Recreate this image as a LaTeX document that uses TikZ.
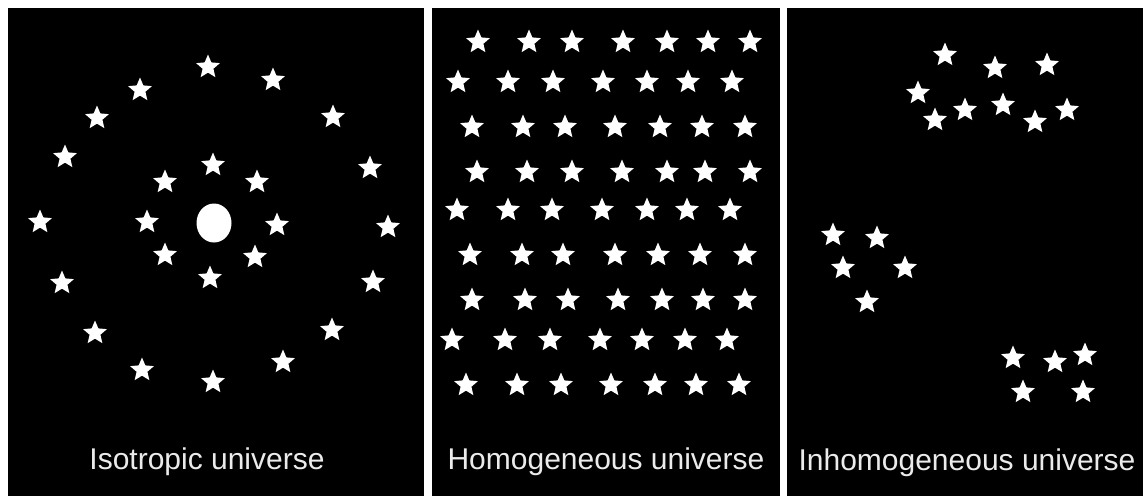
\documentclass[tikz,border=0pt]{standalone}
\usepackage{fontspec}
\setmainfont{Liberation Sans}
\usetikzlibrary{shapes.geometric}
\definecolor{captiongrey}{RGB}{235,235,235}

\tikzset{
  twinkle/.style={star,star points=5,star point ratio=2.2,fill=white,
    inner sep=0pt,minimum size=25pt},
  caption/.style={text=captiongrey,anchor=base,
    font=\fontsize{30}{36}\selectfont},
}

\begin{document}
\begin{tikzpicture}[x=1pt,y=-1pt]
        \fill[white] (0,0) rectangle (1143,496);
        \useasboundingbox (0,0) rectangle (1143,496);
        % the three black panels
        \fill[black] (8,8) rectangle (424,496);
        \fill[black] (432,8) rectangle (780,496);
        \fill[black] (787,8) rectangle (1143,496);
        % isotropic: sun with two rings of stars
        \node (sun) [ellipse,fill=white,inner sep=0pt,minimum width=35pt,
          minimum height=39pt] at (214,223) {};
        \foreach \x/\y [count=\i] in {208/67,273/80,140/90,97/118,333/117,
            65/157,370/168,40/222,388/227,62/283,373/282,95/333,332/330,
            142/370,283/362,213/382,213/165,165/182,257/182,147/222,
            277/225,165/255,255/257,210/278}{
          \node (iso\i) [twinkle] at (\x,\y) {};
        }
        % homogeneous: rows of seven
        \foreach \y/\row in {42/{478,529,572,623,667,708,750},
            82/{458,508,553,603,647,688,732},
            127/{472,523,565,615,660,702,745},
            172/{477,527,572,622,667,705,750},
            210/{457,508,552,602,647,687,730},
            255/{470,522,563,615,658,700,745},
            300/{472,525,568,618,662,703,745},
            340/{452,505,550,600,642,685,727},
            385/{466,517,561,611,655,696,739}}{
          \foreach \x [count=\j] in \row{
            \node (hom\y-\j) [twinkle] at (\x,\y) {};
          }
        }
        % inhomogeneous: three clusters
        \foreach \x/\y [count=\i] in {945/55,995/68,1047/65,918/93,935/120,
            965/110,1003/105,1035/122,1067/110,833/235,877/238,843/268,
            905/268,867/302,1013/358,1055/362,1085/355,1023/392,1083/392}{
          \node (inh\i) [twinkle] at (\x,\y) {};
        }
        \node (isolabel) [caption] at (207,469) {Isotropic universe};
        \node (homlabel) [caption] at (606,469) {Homogeneous universe};
        \node (inhlabel) [caption] at (967,470) {Inhomogeneous universe};
      \end{tikzpicture}
\end{document}
